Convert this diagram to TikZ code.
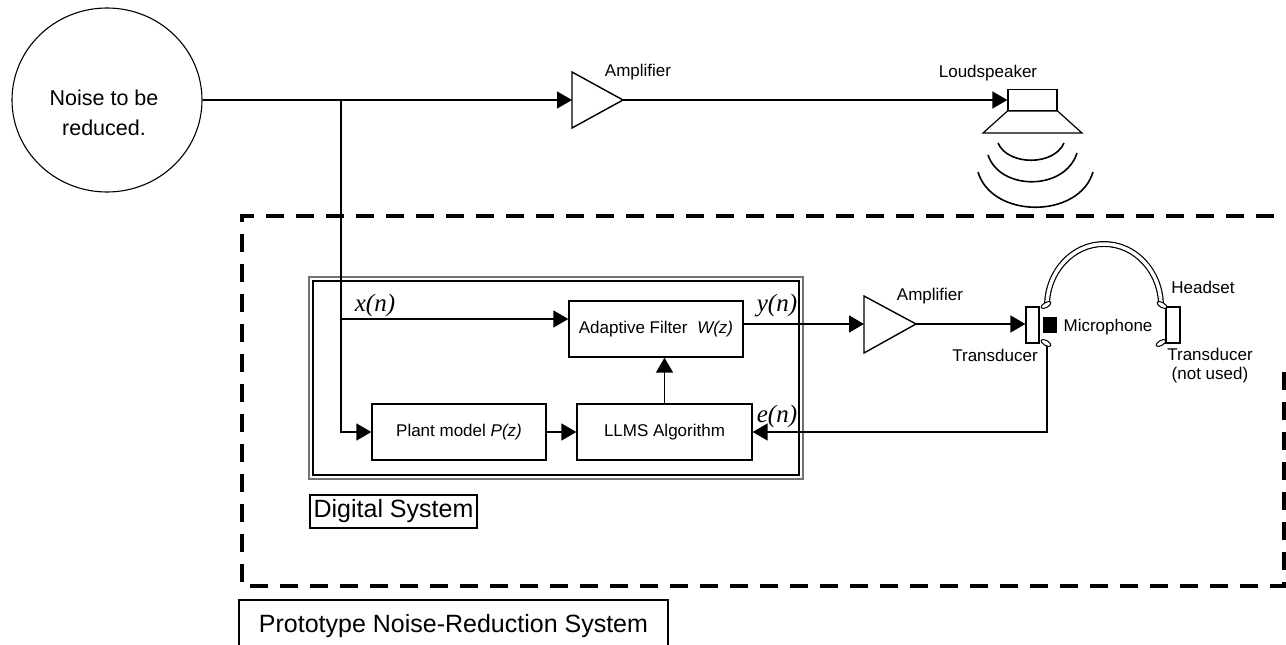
\documentclass[tikz,border=0pt]{standalone}
\usepackage{fontspec}
\setmainfont{Liberation Sans}
\newfontfamily\serifit{Liberation Serif}
\usetikzlibrary{arrows.meta,shapes.geometric}

\begin{document}
\begin{tikzpicture}[x=1pt,y=-1pt,
  wire/.style={line width=1.4pt},
  sig/.style={wire,-{Triangle[length=15pt,width=17pt]}},
  blk/.style={draw,line width=1.3pt,minimum width=#1,minimum height=56pt,inner sep=0pt,
    font=\fontsize{17}{19}\selectfont},
  lbl/.style={inner sep=0pt,font=\fontsize{17}{19}\selectfont},
  sigl/.style={inner sep=0pt,font=\serifit\itshape\fontsize{25}{28}\selectfont},
  sysborder/.style={line width=3.5pt,dash pattern=on 18pt off 12pt},
  earcup/.style={draw,line width=1.2pt,inner sep=0pt,minimum width=13pt,minimum height=36pt},
  titlebox/.style={draw,line width=1.1pt,inner sep=0pt,font=\fontsize{25}{28}\selectfont},
]
\fill[white] (0,0) rectangle (1286,645);
\clip (0,0) rectangle (1286,645);

% ---- noise source and acoustic path -------------------------------
\node[draw,ellipse,line width=1.1pt,minimum width=190pt,minimum height=184pt,inner sep=0pt]
  (noise) at (107,100) {};
\node[inner sep=0pt,align=center,font=\fontsize{21.5}{30}\selectfont]
  (noisetxt) at (104,113) {Noise to be\\reduced.};

\coordinate (split) at (341,100);
\coordinate (amp1in) at (572,100);
\coordinate (amp1out) at (623,100);
\draw[wire] (noise.east) -- (split);
\draw[sig] (split) -- (amp1in);
\draw[wire,line join=miter] (572,72) -- (amp1out) -- (572,128) -- cycle;
\node[lbl] (amp1lbl) at (638,72) {Amplifier};

% loudspeaker
\node[draw,line width=1.2pt,minimum width=49pt,minimum height=21pt,inner sep=0pt]
  (spk) at (1032.5,100) {};
\draw[sig] (amp1out) -- (spk.west);
\draw[line width=1.2pt] (spk.south west) -- (spk.south east) -- (1082,133) -- (983,133) -- cycle;
\draw[line width=1.6pt] (998,143) .. controls (1008,166) and (1054,166) .. (1064,143);
\draw[line width=1.6pt] (988,155) .. controls (1000,191) and (1065,191) .. (1077,153);
\draw[line width=1.6pt] (978,172) .. controls (992,219) and (1079,219) .. (1093,172);
\node[lbl] (spklbl) at (988,73) {Loudspeaker};

% ---- prototype system boundary -------------------------------------
\draw[sysborder] (1284,372) -- (1284,586) -- (242,586) -- (242,216) -- (1292,216);

% ---- digital system ------------------------------------------------
\draw[line width=1.5pt,black!55] (309,277) rectangle (803,479);
\draw[line width=1.2pt] (313,281) rectangle (799,475);

\node[blk=174pt] (adf) at (656,329) {Adaptive Filter\hspace{5pt} \textit{W(z)}};
\node[blk=175pt] (llms) at (664.5,432) {LLMS Algorithm};
\node[blk=174pt] (plant) at (459,432) {Plant model \textit{P(z)}};

\coordinate (xbr) at (341,319);
\draw[sig] (split) |- (plant.west);
\draw[sig] (xbr) -- (xbr -| adf.west);
\draw[sig] (plant.east) -- (llms.west);
\draw[sig] (llms.north) -- (llms.north |- adf.south);

\node[sigl] (xlbl) at (375,305) {x(n)};
\node[sigl] (ylbl) at (777,306) {y(n)};
\node[sigl] (elbl) at (777,416) {e(n)};

% ---- output amplifier and headset ----------------------------------
\coordinate (amp2in) at (864,324);
\coordinate (amp2out) at (916,324);
\draw[sig] (adf.east |- amp2in) -- (amp2in);
\draw[wire,line join=miter] (864,296) -- (amp2out) -- (864,353) -- cycle;
\node[lbl] (amp2lbl) at (930,296) {Amplifier};

\node[earcup] (td1) at (1032.5,325) {};
\node[earcup,minimum width=14pt] (td2) at (1173,325) {};
\node[fill,inner sep=0pt,minimum width=14pt,minimum height=16pt] (mic) at (1050,325) {};
\draw[sig] (amp2out) -- (td1.west |- amp2out);

% headband and cup clips
\draw[line width=1.2pt,double,double distance=3.5pt] (1047,306) arc[start angle=180,end angle=360,x radius=57,y radius=62];
\foreach \cx/\cy/\ang in {1046/305/30, 1046/343/-30, 1162/305/-30, 1161/343/30}
  \draw[line width=1pt,fill=white,rotate around={\ang:(\cx,\cy)}] (\cx,\cy) ellipse [x radius=5.5pt,y radius=2.5pt];

\coordinate (eout) at (1047,346);
\draw[sig] (eout) |- (llms.east);

\node[lbl] (td1lbl) at (995,355) {Transducer};
\node[lbl] (miclbl) at (1108,327) {Microphone};
\node[lbl] (hslbl) at (1203,287) {Headset};
\node[lbl,align=center] (td2lbl) at (1210,366) {Transducer\\(not used)};

% ---- titles --------------------------------------------------------
\node[titlebox,minimum width=167pt,minimum height=33pt] (dstitle) at (393.5,511.5) {Digital System};
\node[titlebox,minimum width=429pt,minimum height=52pt] (ptitle) at (453.5,626) {Prototype Noise-Reduction System};
\end{tikzpicture}
\end{document}
